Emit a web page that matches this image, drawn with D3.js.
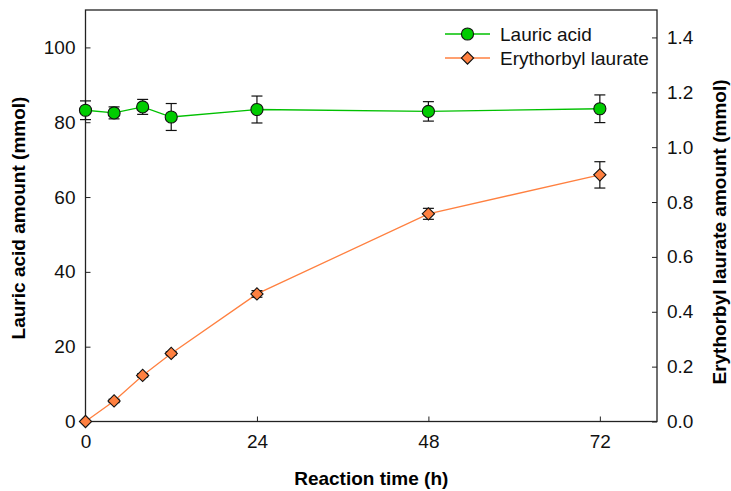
<!DOCTYPE html>
<html>
<head>
<meta charset="utf-8">
<script src="https://cdn.jsdelivr.net/npm/d3@7"></script>
<style>
  body { margin: 0; background: #fff; }
  text { font-family: "Liberation Sans", Arial, sans-serif; }
</style>
</head>
<body>
<div id="chart"></div>
<script>
var times = [0, 4, 8, 12, 24, 48, 72];
var lauric = [83.2, 82.5, 84.1, 81.4, 83.4, 82.9, 83.6];
var lauricErr = [2.5, 1.6, 2.0, 3.6, 3.6, 2.6, 3.7];
var ester = [0, 0.075, 0.168, 0.248, 0.465, 0.757, 0.899];
var esterErr = [0, 0.006, 0.006, 0.006, 0.012, 0.02, 0.048];
var xTicks = [0, 24, 48, 72];
var leftTicks = [0, 20, 40, 60, 80, 100];
var rightTicks = [0, 0.2, 0.4, 0.6, 0.8, 1.0, 1.2, 1.4];

var width = 731, height = 491;
var m = { left: 85.5, right: 74, top: 10, bottom: 69.5 };

var svg = d3.select("#chart").append("svg")
    .attr("width", width)
    .attr("height", height);

var x = d3.scaleLinear().domain([0, 80]).range([m.left, width - m.right]);
var yL = d3.scaleLinear().domain([0, 110]).range([height - m.bottom, m.top]);
var yR = d3.scaleLinear().domain([0, 1.5]).range([height - m.bottom, m.top]);

var axisColor = "#222";

// frame
svg.append("rect")
    .attr("x", x(0)).attr("y", m.top)
    .attr("width", x(80) - x(0)).attr("height", yL(0) - m.top)
    .attr("fill", "none").attr("stroke", axisColor).attr("stroke-width", 1.3);

var gx = svg.append("g").attr("transform", "translate(0," + yL(0) + ")")
    .call(d3.axisTop(x).tickValues(xTicks).tickSize(5).tickFormat(d3.format("d")));
gx.selectAll("text").attr("y", 13).attr("dy", "0.71em");

var gl = svg.append("g").attr("transform", "translate(" + x(0) + ",0)")
    .call(d3.axisRight(yL).tickValues(leftTicks).tickSize(5).tickFormat(d3.format("d")));
gl.selectAll("text").attr("x", -10).attr("text-anchor", "end");

var gr = svg.append("g").attr("transform", "translate(" + x(80) + ",0)")
    .call(d3.axisLeft(yR).tickValues(rightTicks).tickSize(5).tickFormat(d3.format(".1f")));
gr.selectAll("text").attr("x", 10).attr("text-anchor", "start");

[gx, gl, gr].forEach(function (g) {
  g.select(".domain").remove();
  g.selectAll("line").attr("stroke", axisColor).attr("stroke-width", 1);
  g.selectAll("text").attr("fill", "#111").style("font-size", "19px")
      .style("font-family", "'Liberation Sans', Arial, sans-serif");
});

// axis titles
svg.append("text")
    .attr("x", (x(0) + x(80)) / 2).attr("y", 485)
    .attr("text-anchor", "middle")
    .style("font-size", "19px").style("font-weight", "bold")
    .text("Reaction time (h)");

svg.append("text")
    .attr("transform", "translate(25,218) rotate(-90)")
    .attr("text-anchor", "middle")
    .style("font-size", "19px").style("font-weight", "bold")
    .text("Lauric acid amount (mmol)");

svg.append("text")
    .attr("transform", "translate(726,232) rotate(-90)")
    .attr("text-anchor", "middle")
    .style("font-size", "19px").style("font-weight", "bold")
    .text("Erythorbyl laurate amount (mmol)");

var green = "#00c000", greenFill = "#00cc00";
var orange = "#ff8040", orangeFill = "#ff8040";
var circleSize = 115, diamondSize = 75;

function drawSeries(vals, errs, y, lineColor, fill, shape) {
  var pts = times.map(function (t, i) { return { t: t, v: vals[i], e: errs[i] }; });
  svg.append("path")
      .datum(pts)
      .attr("fill", "none").attr("stroke", lineColor).attr("stroke-width", 1.3)
      .attr("d", d3.line().x(function (d) { return x(d.t); }).y(function (d) { return y(d.v); }));

  var eb = svg.append("g").selectAll("g").data(pts.filter(function (d) { return d.e > 0; }))
      .enter().append("g").attr("stroke", "#111").attr("stroke-width", 1.2);
  eb.append("line")
      .attr("x1", function (d) { return x(d.t); }).attr("x2", function (d) { return x(d.t); })
      .attr("y1", function (d) { return y(d.v - d.e); }).attr("y2", function (d) { return y(d.v + d.e); });
  [1, -1].forEach(function (s) {
    eb.append("line")
        .attr("x1", function (d) { return x(d.t) - 5.5; }).attr("x2", function (d) { return x(d.t) + 5.5; })
        .attr("y1", function (d) { return y(d.v + s * d.e); }).attr("y2", function (d) { return y(d.v + s * d.e); });
  });

  svg.append("g").selectAll("path").data(pts).enter().append("path")
      .attr("d", d3.symbol().type(shape).size(shape === d3.symbolCircle ? circleSize : diamondSize))
      .attr("transform", function (d) {
        return "translate(" + x(d.t) + "," + y(d.v) + ")" + (shape === d3.symbolSquare ? " rotate(45)" : "");
      })
      .attr("fill", fill).attr("stroke", "#111").attr("stroke-width", 1.1);
}

drawSeries(lauric, lauricErr, yL, green, greenFill, d3.symbolCircle);
drawSeries(ester, esterErr, yR, orange, orangeFill, d3.symbolSquare);

// legend
var legend = [
  { name: "Lauric acid", line: green, fill: greenFill, shape: d3.symbolCircle, y: 34 },
  { name: "Erythorbyl laurate", line: orange, fill: orangeFill, shape: d3.symbolSquare, y: 58 }
];
var lg = svg.append("g").selectAll("g").data(legend).enter().append("g")
    .attr("transform", function (d) { return "translate(445," + d.y + ")"; });
lg.append("line").attr("x1", 0).attr("x2", 45)
    .attr("stroke", function (d) { return d.line; }).attr("stroke-width", 1.3);
lg.append("path")
    .attr("d", function (d) { return d3.symbol().type(d.shape).size(d.shape === d3.symbolCircle ? circleSize : diamondSize)(); })
    .attr("transform", function (d) { return "translate(22.5,0)" + (d.shape === d3.symbolSquare ? " rotate(45)" : ""); })
    .attr("fill", function (d) { return d.fill; }).attr("stroke", "#111").attr("stroke-width", 1.1);
lg.append("text").attr("x", 55).attr("dy", "0.35em")
    .style("font-size", "19px").attr("fill", "#111")
    .text(function (d) { return d.name; });
</script>
</body>
</html>
